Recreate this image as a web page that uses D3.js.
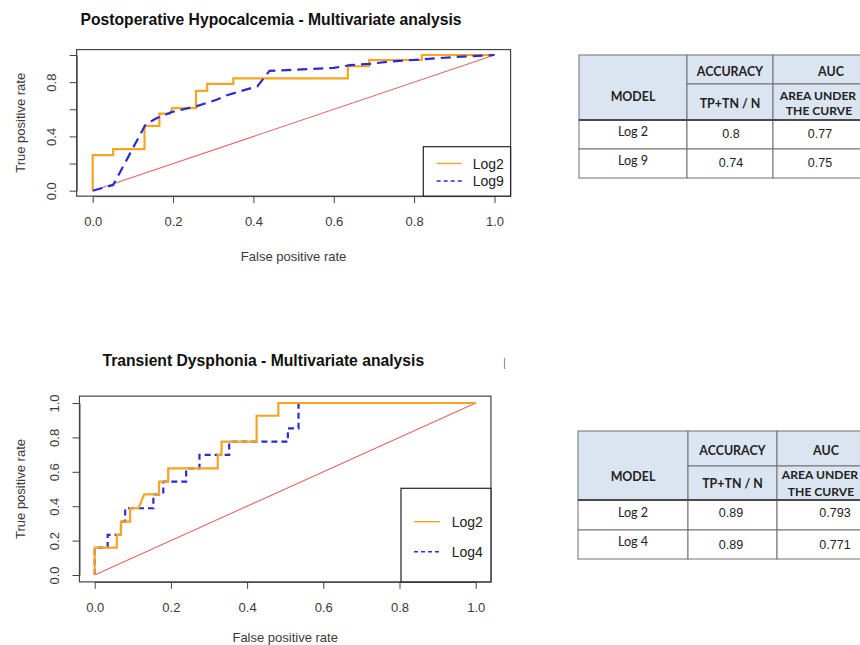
<!DOCTYPE html>
<html>
<head>
<meta charset="utf-8">
<script src="https://cdn.jsdelivr.net/npm/d3@7"></script>
<style>
body { margin: 0; background: #fff; }
svg text { font-family: "Liberation Sans", Arial, sans-serif; }
svg .tbl text { font-family: Lato, "Open Sans", sans-serif; }
</style>
</head>
<body>
<svg id="chart" width="860" height="645"></svg>
<script>
'use strict';

// ---------------- data ----------------
const axisTicks = [0, 0.2, 0.4, 0.6, 0.8, 1.0];

// Postoperative hypocalcemia ROC curves (vertices)
const hypoLog2Fpr = [0, 0, 0.051, 0.051, 0.129, 0.129, 0.166, 0.166, 0.193, 0.198, 0.257, 0.257, 0.285, 0.285, 0.35, 0.35, 0.635, 0.635, 0.688, 0.688, 0.819, 0.819, 1];
const hypoLog2Tpr = [0, 0.262, 0.262, 0.307, 0.307, 0.478, 0.478, 0.568, 0.568, 0.609, 0.609, 0.736, 0.736, 0.787, 0.787, 0.828, 0.828, 0.917, 0.917, 0.963, 0.963, 1, 1];
const hypoLog9Fpr = [0, 0.051, 0.132, 0.16, 0.197, 0.259, 0.31, 0.33, 0.41, 0.44, 0.6, 0.64, 0.69, 0.74, 0.82, 0.9, 1];
const hypoLog9Tpr = [0, 0.042, 0.49, 0.535, 0.58, 0.623, 0.672, 0.70, 0.77, 0.883, 0.905, 0.925, 0.935, 0.952, 0.968, 0.985, 1];

// Transient dysphonia ROC curves
const dysLog2Fpr = [0, 0, 0.058, 0.058, 0.069, 0.069, 0.093, 0.093, 0.115, 0.13, 0.169, 0.169, 0.193, 0.193, 0.323, 0.323, 0.333, 0.333, 0.425, 0.425, 0.482, 0.482, 1];
const dysLog2Tpr = [0, 0.159, 0.159, 0.233, 0.233, 0.31, 0.31, 0.388, 0.388, 0.469, 0.469, 0.543, 0.543, 0.62, 0.62, 0.698, 0.698, 0.775, 0.775, 0.926, 0.926, 1, 1];
const dysLog4Fpr = [0, 0, 0.034, 0.034, 0.069, 0.069, 0.08, 0.08, 0.154, 0.154, 0.18, 0.18, 0.24, 0.24, 0.275, 0.275, 0.353, 0.353, 0.507, 0.507, 0.535, 0.535, 1];
const dysLog4Tpr = [0, 0.159, 0.159, 0.233, 0.233, 0.31, 0.31, 0.388, 0.388, 0.469, 0.469, 0.543, 0.543, 0.62, 0.62, 0.698, 0.698, 0.775, 0.775, 0.853, 0.853, 1, 1];

// tables
const tableHeaders = ["MODEL", "ACCURACY", "AUC", "TP+TN / N", "AREA UNDER", "THE CURVE"];
const hypoModels = ["Log 2", "Log 9"];
const hypoAccuracy = ["0.8", "0.74"];
const hypoAuc = ["0.77", "0.75"];
const dysModels = ["Log 2", "Log 4"];
const dysAccuracy = ["0.89", "0.89"];
const dysAuc = ["0.793", "0.771"];

// ---------------- drawing ----------------
const svg = d3.select('#chart');
const ORANGE = '#f6a523';
const BLUE = '#2b2bd6';
const AXIS = '#444';
const fmt = d3.format('.1f');

function toPoints(fpr, tpr) {
    return fpr.map((f, i) => [f, tpr[i]]);
}

function drawRoc(cfg) {
    const g = svg.append('g');
    const x = d3.scaleLinear().domain([0, 1]).range([cfg.x0, cfg.x1]);
    const y = d3.scaleLinear().domain([0, 1]).range([cfg.y0, cfg.y1]);

    // R pads the plot region by 4% on each side
    const bx0 = x(-0.04), bx1 = x(1.04), byB = y(-0.04), byT = y(1.04);

    // title
    g.append('text')
        .attr('x', cfg.titleX).attr('y', cfg.titleY)
        .attr('text-anchor', 'middle')
        .attr('font-size', 15.7).attr('font-weight', 'bold')
        .attr('fill', '#111')
        .text(cfg.title);

    // axes
    const xAxis = g.append('g')
        .attr('transform', `translate(0,${byB})`)
        .call(d3.axisBottom(x).tickValues(axisTicks).tickSize(7).tickSizeOuter(0).tickFormat(fmt));
    xAxis.selectAll('.tick text').attr('y', 30).attr('dy', 0);

    const yAxis = g.append('g')
        .attr('transform', `translate(${bx0},0)`)
        .call(d3.axisLeft(y).tickValues(axisTicks).tickSize(7).tickSizeOuter(0)
            .tickFormat(d => cfg.yLabels.includes(d) ? fmt(d) : ''));
    yAxis.selectAll('.tick text')
        .attr('x', 0).attr('dy', 0)
        .attr('text-anchor', 'middle')
        .attr('transform', 'translate(-20.5,0) rotate(-90)');

    [xAxis, yAxis].forEach(a => {
        a.selectAll('.tick line').attr('stroke', AXIS);
        a.selectAll('.domain').attr('stroke', AXIS);
        a.selectAll('.tick text').attr('font-size', 13).attr('fill', '#3a3a3a')
            .style('font-family', '"Liberation Sans", Arial, sans-serif');
    });

    // axis titles
    g.append('text')
        .attr('x', (bx0 + bx1) / 2).attr('y', cfg.xTitleY)
        .attr('text-anchor', 'middle').attr('font-size', 13).attr('fill', '#3a3a3a')
        .text('False positive rate');
    g.append('text')
        .attr('transform', `translate(24.5,${(byT + byB) / 2}) rotate(-90)`)
        .attr('text-anchor', 'middle').attr('font-size', 13).attr('fill', '#3a3a3a')
        .text('True positive rate');

    // chance diagonal
    const line = d3.line().x(d => x(d[0])).y(d => y(d[1]));
    g.append('path')
        .datum([[0, 0], [1, 1]])
        .attr('d', line)
        .attr('fill', 'none').attr('stroke', '#e06868').attr('stroke-width', 1.1);

    // curves, in the order R plotted them
    cfg.series.forEach(s => {
        g.append('path')
            .datum(toPoints(s.fpr, s.tpr))
            .attr('d', line)
            .attr('fill', 'none')
            .attr('stroke', s.color)
            .attr('stroke-width', 2.2)
            .attr('stroke-dasharray', s.dashed ? cfg.dash : null)
            .attr('stroke-linejoin', 'miter');
    });

    // plot box
    g.append('rect')
        .attr('x', bx0).attr('y', byT)
        .attr('width', bx1 - bx0).attr('height', byB - byT)
        .attr('fill', 'none').attr('stroke', AXIS).attr('stroke-width', 1.2);

    // legend
    const L = cfg.legend;
    g.append('rect')
        .attr('x', L.x0).attr('y', L.y0)
        .attr('width', bx1 - L.x0).attr('height', byB - L.y0)
        .attr('fill', '#fff').attr('stroke', '#222').attr('stroke-width', 1.2);
    cfg.legendOrder.forEach((s, i) => {
        const ly = L.rows[i];
        g.append('line')
            .attr('x1', L.lineX0).attr('x2', L.lineX1)
            .attr('y1', ly).attr('y2', ly)
            .attr('stroke', s.color).attr('stroke-width', 1.4)
            .attr('stroke-dasharray', s.dashed ? '4,3' : null);
        g.append('text')
            .attr('x', L.textX).attr('y', ly)
            .attr('dominant-baseline', 'central')
            .attr('font-size', 14).attr('fill', '#222')
            .text(s.name);
    });
}

function drawTable(cfg) {
    const g = svg.append('g').classed('tbl', true);
    const c = cfg.cols, r = cfg.rows;
    const HEAD = '#dbe5f1';
    const cell = (x0, x1, y0, y1, fill) => g.append('rect')
        .attr('x', x0).attr('y', y0).attr('width', x1 - x0).attr('height', y1 - y0)
        .attr('fill', fill).attr('stroke', '#707070').attr('stroke-width', 1);

    // header
    cell(c[0], c[1], r[0], r[2], HEAD);
    cell(c[1], c[2], r[0], r[1], HEAD);
    cell(c[2], c[3], r[0], r[1], HEAD);
    cell(c[1], c[2], r[1], r[2], HEAD);
    cell(c[2], c[3], r[1], r[2], HEAD);
    // body
    cfg.models.forEach((m, i) => {
        cell(c[0], c[1], r[2 + i], r[3 + i], '#fff');
        cell(c[1], c[2], r[2 + i], r[3 + i], '#fff');
        cell(c[2], c[3], r[2 + i], r[3 + i], '#fff');
    });
    g.append('line')
        .attr('x1', c[0]).attr('x2', c[3]).attr('y1', r[2]).attr('y2', r[2])
        .attr('stroke', '#4a4a4a').attr('stroke-width', 2);

    const txt = (x, y, s, bold, font) => g.append('text')
        .attr('x', x).attr('y', y)
        .attr('text-anchor', 'middle').attr('dominant-baseline', 'central')
        .attr('font-size', bold ? 12.4 : 12.6)
        .attr('font-weight', bold ? 'bold' : 'normal')
        .attr('fill', '#222')
        .style('font-family', font || null)
        .text(s);

    const h = cfg.headPos;
    txt(h.model[0], h.model[1], tableHeaders[0], true);
    txt(h.acc[0], h.acc[1], tableHeaders[1], true);
    txt(h.auc[0], h.auc[1], tableHeaders[2], true);
    txt(h.tp[0], h.tp[1], tableHeaders[3], true);
    txt(h.area[0], h.area[1], tableHeaders[4], true).attr('font-size', 12.1);
    txt(h.curve[0], h.curve[1], tableHeaders[5], true).attr('font-size', 12.1);

    cfg.models.forEach((m, i) => {
        const mid = (r[2 + i] + r[3 + i]) / 2;
        txt(cfg.labelX, mid - 3, m, false);
        txt(cfg.accX, mid - 1 + cfg.valDy[i], cfg.accuracy[i], false, '"Liberation Sans", Arial, sans-serif')
            .attr('font-size', 12.5);
        txt(cfg.aucX, mid - 1 + cfg.valDy[i], cfg.auc[i], false, '"Liberation Sans", Arial, sans-serif')
            .attr('font-size', 12.5);
    });
}

drawRoc({
    title: 'Postoperative Hypocalcemia - Multivariate analysis',
    titleX: 271, titleY: 25.3,
    x0: 92.7, x1: 494.5, y0: 190.7, y1: 55,
    yLabels: [0, 0.4, 0.8],
    xTitleY: 261,
    dash: '10,6',
    series: [
        { name: 'Log2', fpr: hypoLog2Fpr, tpr: hypoLog2Tpr, color: ORANGE, dashed: false },
        { name: 'Log9', fpr: hypoLog9Fpr, tpr: hypoLog9Tpr, color: BLUE, dashed: true }
    ],
    get legendOrder() { return this.series; },
    legend: { x0: 423.3, y0: 146.7, rows: [163.5, 181], lineX0: 436.7, lineX1: 461.7, textX: 472.7 }
});

const dysSeries = [
    { name: 'Log2', fpr: dysLog2Fpr, tpr: dysLog2Tpr, color: ORANGE, dashed: false },
    { name: 'Log4', fpr: dysLog4Fpr, tpr: dysLog4Tpr, color: BLUE, dashed: true }
];
drawRoc({
    title: 'Transient Dysphonia - Multivariate analysis',
    titleX: 263.3, titleY: 366,
    x0: 94.7, x1: 475.7, y0: 575, y1: 403,
    yLabels: axisTicks,
    xTitleY: 642,
    dash: '6,4',
    // orange was drawn over the blue curve here
    series: [dysSeries[1], dysSeries[0]],
    legendOrder: dysSeries,
    legend: { x0: 401, y0: 488.3, rows: [521.7, 551.7], lineX0: 414, lineX1: 440, textX: 451.7 }
});

// stray mark next to the lower title
svg.append('line')
    .attr('x1', 504.5).attr('x2', 504.5).attr('y1', 358).attr('y2', 369)
    .attr('stroke', '#8a96a8').attr('stroke-width', 1.2);

drawTable({
    cols: [579, 687, 773, 885],
    rows: [55, 84, 120, 149, 178],
    models: hypoModels, accuracy: hypoAccuracy, auc: hypoAuc,
    headPos: { model: [633, 96.7], acc: [730, 71.7], auc: [831, 71.7], tp: [730, 103.3], area: [818, 95], curve: [819, 110] },
    labelX: 633, accX: 731, aucX: 820, valDy: [0, 0]
});

drawTable({
    cols: [578, 688, 777, 885],
    rows: [431, 466, 500, 530, 559],
    models: dysModels, accuracy: dysAccuracy, auc: dysAuc,
    headPos: { model: [633, 476.7], acc: [732.5, 450], auc: [826, 450], tp: [732.5, 483.3], area: [820, 474], curve: [821, 491.7] },
    labelX: 633, accX: 731, aucX: 835, valDy: [-1, 1.5]
});
</script>
</body>
</html>
